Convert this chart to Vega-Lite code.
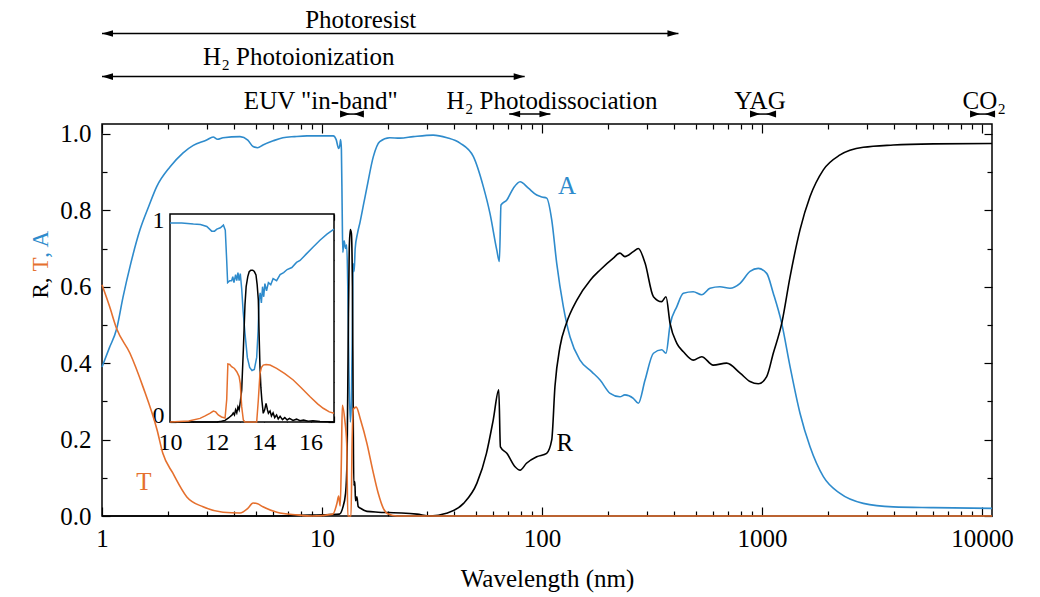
{
"$schema": "https://vega.github.io/schema/vega-lite/v6.json",
"width": 890,
"height": 392,
"autosize": {"type": "none"},
"padding": {"left": 102, "top": 124, "right": 48, "bottom": 81},
"background": "white",
"config": {
  "view": {"stroke": "#000", "strokeWidth": 1.5},
  "font": "Liberation Serif",
  "text": {"font": "Liberation Serif"},
  "axis": {"domain": false, "grid": false, "labelFont": "Liberation Serif", "titleFont": "Liberation Serif", "labelColor": "#000", "titleColor": "#000", "tickColor": "#000", "tickWidth": 1.2, "titleFontWeight": "normal", "labelOverlap": false, "labelFlush": false, "zindex": 1}
},
"datasets": {
  "main": [
    {"s":"A","wl":1,"v":0.39},{"s":"A","wl":1.08,"v":0.44},{"s":"A","wl":1.166,"v":0.49},{"s":"A","wl":1.246,"v":0.573},{"s":"A","wl":1.35,"v":0.66},{"s":"A","wl":1.488,"v":0.749},{"s":"A","wl":1.63,"v":0.81},{"s":"A","wl":1.773,"v":0.862},{"s":"A","wl":2.04,"v":0.914},{"s":"A","wl":2.33,"v":0.95},{"s":"A","wl":2.6,"v":0.97},{"s":"A","wl":2.99,"v":0.984},{"s":"A","wl":3.2,"v":0.992},{"s":"A","wl":3.35,"v":0.986},{"s":"A","wl":3.55,"v":0.99},{"s":"A","wl":4.24,"v":0.993},{"s":"A","wl":4.6,"v":0.984},{"s":"A","wl":4.86,"v":0.967},{"s":"A","wl":5.1,"v":0.964},{"s":"A","wl":5.39,"v":0.971},{"s":"A","wl":6.0,"v":0.982},{"s":"A","wl":6.64,"v":0.99},{"s":"A","wl":7.5,"v":0.993},{"s":"A","wl":8.55,"v":0.995},{"s":"A","wl":9.79,"v":0.995},{"s":"A","wl":10.5,"v":0.995},{"s":"A","wl":11.25,"v":0.995},{"s":"A","wl":11.6,"v":0.985},{"s":"A","wl":11.9,"v":0.962},{"s":"A","wl":12.05,"v":0.97},{"s":"A","wl":12.15,"v":0.985},{"s":"A","wl":12.25,"v":0.96},{"s":"A","wl":12.35,"v":0.8},{"s":"A","wl":12.43,"v":0.69},{"s":"A","wl":12.6,"v":0.72},{"s":"A","wl":12.8,"v":0.7},{"s":"A","wl":12.95,"v":0.71},{"s":"A","wl":13.1,"v":0.6},{"s":"A","wl":13.25,"v":0.38},{"s":"A","wl":13.45,"v":0.246},{"s":"A","wl":13.6,"v":0.3},{"s":"A","wl":13.75,"v":0.5},{"s":"A","wl":13.85,"v":0.66},{"s":"A","wl":14.0,"v":0.64},{"s":"A","wl":14.15,"v":0.7},{"s":"A","wl":14.5,"v":0.74},{"s":"A","wl":14.9,"v":0.77},{"s":"A","wl":15.5,"v":0.82},{"s":"A","wl":16.0,"v":0.86},{"s":"A","wl":17.1,"v":0.94},{"s":"A","wl":18.3,"v":0.98},{"s":"A","wl":20.3,"v":0.99},{"s":"A","wl":22.6,"v":0.989},{"s":"A","wl":26,"v":0.993},{"s":"A","wl":32,"v":0.997},{"s":"A","wl":37,"v":0.99},{"s":"A","wl":42.4,"v":0.976},{"s":"A","wl":48.7,"v":0.941},{"s":"A","wl":54.1,"v":0.862},{"s":"A","wl":58,"v":0.792},{"s":"A","wl":62.3,"v":0.696},{"s":"A","wl":64,"v":0.666},{"s":"A","wl":65.1,"v":0.814},{"s":"A","wl":69.2,"v":0.827},{"s":"A","wl":74.1,"v":0.858},{"s":"A","wl":79.5,"v":0.875},{"s":"A","wl":86.7,"v":0.858},{"s":"A","wl":94.6,"v":0.84},{"s":"A","wl":100,"v":0.835},{"s":"A","wl":105,"v":0.832},{"s":"A","wl":110.7,"v":0.775},{"s":"A","wl":116.6,"v":0.662},{"s":"A","wl":125,"v":0.548},{"s":"A","wl":134,"v":0.469},{"s":"A","wl":148.8,"v":0.408},{"s":"A","wl":168,"v":0.378},{"s":"A","wl":183.6,"v":0.356},{"s":"A","wl":204,"v":0.321},{"s":"A","wl":226,"v":0.312},{"s":"A","wl":238,"v":0.317},{"s":"A","wl":260,"v":0.308},{"s":"A","wl":274,"v":0.295},{"s":"A","wl":294,"v":0.356},{"s":"A","wl":321,"v":0.426},{"s":"A","wl":350,"v":0.435},{"s":"A","wl":366,"v":0.426},{"s":"A","wl":382,"v":0.5},{"s":"A","wl":410,"v":0.548},{"s":"A","wl":439,"v":0.583},{"s":"A","wl":487,"v":0.587},{"s":"A","wl":532,"v":0.579},{"s":"A","wl":580,"v":0.596},{"s":"A","wl":644,"v":0.6},{"s":"A","wl":715,"v":0.596},{"s":"A","wl":795,"v":0.609},{"s":"A","wl":882,"v":0.64},{"s":"A","wl":962,"v":0.648},{"s":"A","wl":1050,"v":0.635},{"s":"A","wl":1125,"v":0.583},{"s":"A","wl":1229,"v":0.504},{"s":"A","wl":1341,"v":0.391},{"s":"A","wl":1488,"v":0.269},{"s":"A","wl":1653,"v":0.181},{"s":"A","wl":1900,"v":0.103},{"s":"A","wl":2263,"v":0.059},{"s":"A","wl":2886,"v":0.033},{"s":"A","wl":3950,"v":0.024},{"s":"A","wl":6010,"v":0.022},{"s":"A","wl":11100,"v":0.02},
    {"s":"R","wl":1,"v":0},{"s":"R","wl":6,"v":0},{"s":"R","wl":8,"v":0.002},{"s":"R","wl":10,"v":0.003},{"s":"R","wl":12,"v":0.005},{"s":"R","wl":12.4,"v":0.02},{"s":"R","wl":12.8,"v":0.06},{"s":"R","wl":13.0,"v":0.15},{"s":"R","wl":13.15,"v":0.45},{"s":"R","wl":13.3,"v":0.7},{"s":"R","wl":13.45,"v":0.75},{"s":"R","wl":13.6,"v":0.74},{"s":"R","wl":13.75,"v":0.6},{"s":"R","wl":13.85,"v":0.3},{"s":"R","wl":13.95,"v":0.08},{"s":"R","wl":14.1,"v":0.09},{"s":"R","wl":14.2,"v":0.04},{"s":"R","wl":14.4,"v":0.05},{"s":"R","wl":14.6,"v":0.025},{"s":"R","wl":15,"v":0.02},{"s":"R","wl":16,"v":0.012},{"s":"R","wl":18,"v":0.01},{"s":"R","wl":20,"v":0.009},{"s":"R","wl":23,"v":0.008},{"s":"R","wl":27,"v":0.005},{"s":"R","wl":31,"v":0.0},{"s":"R","wl":36.8,"v":0.007},{"s":"R","wl":44,"v":0.033},{"s":"R","wl":50.6,"v":0.086},{"s":"R","wl":55.9,"v":0.164},{"s":"R","wl":60,"v":0.251},{"s":"R","wl":63.6,"v":0.33},{"s":"R","wl":64.7,"v":0.181},{"s":"R","wl":69.2,"v":0.164},{"s":"R","wl":75.4,"v":0.129},{"s":"R","wl":79.5,"v":0.12},{"s":"R","wl":85,"v":0.138},{"s":"R","wl":94.6,"v":0.155},{"s":"R","wl":105,"v":0.164},{"s":"R","wl":110.7,"v":0.199},{"s":"R","wl":114.5,"v":0.339},{"s":"R","wl":120.7,"v":0.443},{"s":"R","wl":129,"v":0.504},{"s":"R","wl":144,"v":0.565},{"s":"R","wl":166,"v":0.618},{"s":"R","wl":183.6,"v":0.644},{"s":"R","wl":211,"v":0.675},{"s":"R","wl":226,"v":0.688},{"s":"R","wl":238,"v":0.679},{"s":"R","wl":260,"v":0.692},{"s":"R","wl":274,"v":0.7},{"s":"R","wl":294,"v":0.662},{"s":"R","wl":321,"v":0.574},{"s":"R","wl":350,"v":0.561},{"s":"R","wl":366,"v":0.574},{"s":"R","wl":382,"v":0.504},{"s":"R","wl":410,"v":0.452},{"s":"R","wl":439,"v":0.43},{"s":"R","wl":487,"v":0.408},{"s":"R","wl":532,"v":0.417},{"s":"R","wl":600,"v":0.395},{"s":"R","wl":690,"v":0.4},{"s":"R","wl":795,"v":0.374},{"s":"R","wl":882,"v":0.352},{"s":"R","wl":962,"v":0.346},{"s":"R","wl":1050,"v":0.365},{"s":"R","wl":1125,"v":0.426},{"s":"R","wl":1229,"v":0.504},{"s":"R","wl":1341,"v":0.626},{"s":"R","wl":1488,"v":0.749},{"s":"R","wl":1653,"v":0.836},{"s":"R","wl":1900,"v":0.906},{"s":"R","wl":2263,"v":0.945},{"s":"R","wl":2886,"v":0.965},{"s":"R","wl":3950,"v":0.971},{"s":"R","wl":6010,"v":0.974},{"s":"R","wl":11100,"v":0.975},
    {"s":"T","wl":1,"v":0.605},{"s":"T","wl":1.08,"v":0.55},{"s":"T","wl":1.166,"v":0.49},{"s":"T","wl":1.34,"v":0.426},{"s":"T","wl":1.536,"v":0.338},{"s":"T","wl":1.78,"v":0.225},{"s":"T","wl":1.89,"v":0.164},{"s":"T","wl":2.1,"v":0.112},{"s":"T","wl":2.43,"v":0.05},{"s":"T","wl":2.88,"v":0.024},{"s":"T","wl":3.55,"v":0.01},{"s":"T","wl":4.24,"v":0.008},{"s":"T","wl":4.6,"v":0.02},{"s":"T","wl":4.86,"v":0.034},{"s":"T","wl":5.1,"v":0.032},{"s":"T","wl":5.39,"v":0.024},{"s":"T","wl":6.24,"v":0.01},{"s":"T","wl":7.69,"v":0.003},{"s":"T","wl":9,"v":0},{"s":"T","wl":11.2,"v":0.005},{"s":"T","wl":11.7,"v":0.034},{"s":"T","wl":11.9,"v":0.052},{"s":"T","wl":12.1,"v":0.026},{"s":"T","wl":12.25,"v":0.15},{"s":"T","wl":12.37,"v":0.29},{"s":"T","wl":12.7,"v":0.25},{"s":"T","wl":12.95,"v":0.19},{"s":"T","wl":13.1,"v":0},{"s":"T","wl":13.55,"v":0},{"s":"T","wl":13.7,"v":0.19},{"s":"T","wl":13.9,"v":0.28},{"s":"T","wl":14.3,"v":0.285},{"s":"T","wl":15,"v":0.25},{"s":"T","wl":16,"v":0.19},{"s":"T","wl":17,"v":0.12},{"s":"T","wl":18,"v":0.06},{"s":"T","wl":19,"v":0.02},{"s":"T","wl":20,"v":0.005},{"s":"T","wl":22,"v":0},{"s":"T","wl":11100,"v":0}
  ],
  "inset": [
    {"s":"A","wl":10,"v":0.985},{"s":"A","wl":10.5,"v":0.985},{"s":"A","wl":11,"v":0.98},{"s":"A","wl":11.3,"v":0.978},{"s":"A","wl":11.57,"v":0.968},{"s":"A","wl":11.78,"v":0.945},{"s":"A","wl":11.9,"v":0.945},{"s":"A","wl":12,"v":0.955},{"s":"A","wl":12.15,"v":0.962},{"s":"A","wl":12.28,"v":0.975},{"s":"A","wl":12.36,"v":0.95},{"s":"A","wl":12.42,"v":0.8},{"s":"A","wl":12.46,"v":0.69},{"s":"A","wl":12.55,"v":0.7},{"s":"A","wl":12.63,"v":0.7},{"s":"A","wl":12.68,"v":0.72},{"s":"A","wl":12.73,"v":0.69},{"s":"A","wl":12.8,"v":0.73},{"s":"A","wl":12.85,"v":0.7},{"s":"A","wl":12.9,"v":0.74},{"s":"A","wl":12.95,"v":0.7},{"s":"A","wl":13,"v":0.735},{"s":"A","wl":13.06,"v":0.66},{"s":"A","wl":13.12,"v":0.55},{"s":"A","wl":13.2,"v":0.44},{"s":"A","wl":13.3,"v":0.32},{"s":"A","wl":13.4,"v":0.27},{"s":"A","wl":13.5,"v":0.255},{"s":"A","wl":13.6,"v":0.26},{"s":"A","wl":13.7,"v":0.32},{"s":"A","wl":13.76,"v":0.45},{"s":"A","wl":13.8,"v":0.6},{"s":"A","wl":13.85,"v":0.64},{"s":"A","wl":13.9,"v":0.59},{"s":"A","wl":13.95,"v":0.67},{"s":"A","wl":14,"v":0.62},{"s":"A","wl":14.05,"v":0.685},{"s":"A","wl":14.12,"v":0.65},{"s":"A","wl":14.2,"v":0.69},{"s":"A","wl":14.3,"v":0.68},{"s":"A","wl":14.4,"v":0.71},{"s":"A","wl":14.55,"v":0.7},{"s":"A","wl":14.7,"v":0.73},{"s":"A","wl":14.85,"v":0.74},{"s":"A","wl":15,"v":0.755},{"s":"A","wl":15.2,"v":0.765},{"s":"A","wl":15.4,"v":0.79},{"s":"A","wl":15.55,"v":0.8},{"s":"A","wl":15.8,"v":0.83},{"s":"A","wl":16.1,"v":0.865},{"s":"A","wl":16.4,"v":0.9},{"s":"A","wl":16.7,"v":0.93},{"s":"A","wl":17,"v":0.955},
    {"s":"R","wl":10,"v":0},{"s":"R","wl":12,"v":0},{"s":"R","wl":12.2,"v":0.004},{"s":"R","wl":12.35,"v":0.008},{"s":"R","wl":12.5,"v":0.02},{"s":"R","wl":12.56,"v":0.026},{"s":"R","wl":12.65,"v":0.035},{"s":"R","wl":12.7,"v":0.045},{"s":"R","wl":12.75,"v":0.035},{"s":"R","wl":12.8,"v":0.06},{"s":"R","wl":12.85,"v":0.045},{"s":"R","wl":12.9,"v":0.075},{"s":"R","wl":12.95,"v":0.06},{"s":"R","wl":13,"v":0.1},{"s":"R","wl":13.06,"v":0.158},{"s":"R","wl":13.13,"v":0.356},{"s":"R","wl":13.2,"v":0.58},{"s":"R","wl":13.25,"v":0.67},{"s":"R","wl":13.32,"v":0.72},{"s":"R","wl":13.38,"v":0.744},{"s":"R","wl":13.45,"v":0.752},{"s":"R","wl":13.53,"v":0.752},{"s":"R","wl":13.6,"v":0.745},{"s":"R","wl":13.67,"v":0.728},{"s":"R","wl":13.72,"v":0.68},{"s":"R","wl":13.77,"v":0.604},{"s":"R","wl":13.8,"v":0.45},{"s":"R","wl":13.84,"v":0.274},{"s":"R","wl":13.88,"v":0.17},{"s":"R","wl":13.92,"v":0.109},{"s":"R","wl":13.98,"v":0.043},{"s":"R","wl":14.04,"v":0.06},{"s":"R","wl":14.1,"v":0.092},{"s":"R","wl":14.16,"v":0.06},{"s":"R","wl":14.2,"v":0.043},{"s":"R","wl":14.27,"v":0.055},{"s":"R","wl":14.33,"v":0.03},{"s":"R","wl":14.4,"v":0.045},{"s":"R","wl":14.47,"v":0.022},{"s":"R","wl":14.55,"v":0.035},{"s":"R","wl":14.62,"v":0.015},{"s":"R","wl":14.7,"v":0.028},{"s":"R","wl":14.8,"v":0.012},{"s":"R","wl":14.9,"v":0.022},{"s":"R","wl":15,"v":0.01},{"s":"R","wl":15.1,"v":0.018},{"s":"R","wl":15.25,"v":0.008},{"s":"R","wl":15.4,"v":0.014},{"s":"R","wl":15.55,"v":0.006},{"s":"R","wl":15.7,"v":0.01},{"s":"R","wl":15.9,"v":0.004},{"s":"R","wl":16.1,"v":0.006},{"s":"R","wl":16.4,"v":0.002},{"s":"R","wl":17,"v":0},
    {"s":"T","wl":10,"v":0},{"s":"T","wl":10.8,"v":0.005},{"s":"T","wl":11.28,"v":0.018},{"s":"T","wl":11.5,"v":0.03},{"s":"T","wl":11.7,"v":0.043},{"s":"T","wl":11.85,"v":0.054},{"s":"T","wl":11.95,"v":0.05},{"s":"T","wl":12.06,"v":0.035},{"s":"T","wl":12.2,"v":0.025},{"s":"T","wl":12.35,"v":0.02},{"s":"T","wl":12.42,"v":0.11},{"s":"T","wl":12.47,"v":0.287},{"s":"T","wl":12.55,"v":0.285},{"s":"T","wl":12.63,"v":0.274},{"s":"T","wl":12.75,"v":0.265},{"s":"T","wl":12.85,"v":0.249},{"s":"T","wl":12.95,"v":0.225},{"s":"T","wl":13,"v":0.19},{"s":"T","wl":13.06,"v":0.076},{"s":"T","wl":13.13,"v":0.01},{"s":"T","wl":13.2,"v":0},{"s":"T","wl":13.7,"v":0},{"s":"T","wl":13.77,"v":0.109},{"s":"T","wl":13.84,"v":0.24},{"s":"T","wl":13.9,"v":0.27},{"s":"T","wl":13.98,"v":0.282},{"s":"T","wl":14.1,"v":0.285},{"s":"T","wl":14.27,"v":0.282},{"s":"T","wl":14.55,"v":0.266},{"s":"T","wl":14.9,"v":0.24},{"s":"T","wl":15.26,"v":0.208},{"s":"T","wl":15.6,"v":0.17},{"s":"T","wl":15.98,"v":0.125},{"s":"T","wl":16.3,"v":0.09},{"s":"T","wl":16.54,"v":0.068},{"s":"T","wl":16.8,"v":0.05},{"s":"T","wl":17,"v":0.043}
  ],
  "curvelabels": [
    {"s":"A","wl":130,"v":0.864},{"s":"R","wl":127,"v":0.191},{"s":"T","wl":1.55,"v":0.089}
  ],
  "spans": [
    {"name":"Photoresist","from":1,"to":417,"level":1.263},
    {"name":"H2 Photoionization","from":1,"to":83.4,"level":1.15},
    {"name":"H2 Photodissociation","from":70.9,"to":109.2,"level":1.052}
  ],
  "bands": [
    {"name":"EUV","from":12.08,"to":15.5,"level":1.052},
    {"name":"YAG","from":882,"to":1158,"level":1.052},
    {"name":"CO2","from":8820,"to":11460,"level":1.052}
  ],
  "notes": [
    {"t":"Photoresist","wl":15.0,"level":1.276},
    {"t":"H₂ Photoionization","wl":7.84,"level":1.18},
    {"t":"EUV \"in-band\"","wl":9.88,"level":1.0645},
    {"t":"H₂ Photodissociation","wl":111,"level":1.0645},
    {"t":"YAG","wl":979,"level":1.0645},
    {"t":"CO₂","wl":10245,"level":1.0645}
  ]
},
"resolve": {"scale": {"x": "independent", "y": "independent"}},
"layer": [
  {
    "resolve": {"axis": {"x": "independent", "y": "independent"}},
    "layer": [
      {
        "data": {"name": "main"},
        "mark": {"type": "line", "strokeWidth": 1.6, "interpolate": "monotone"},
        "encoding": {
          "x": {"field": "wl", "type": "quantitative", "scale": {"type": "log", "domain": [1, 11100], "nice": false},
            "axis": {"orient": "bottom", "values": [1,2,3,4,5,6,7,8,9,10,20,30,40,50,60,70,80,90,100,200,300,400,500,600,700,800,900,1000,2000,3000,4000,5000,6000,7000,8000,9000,10000],
              "labelExpr": "indexof([1,10,100,1000,10000], datum.value) >= 0 ? format(datum.value, 'd') : ''",
              "labelFontSize": 25, "labelPadding": 19,
              "tickSize": {"condition": {"test": "indexof([1,10,100,1000,10000], datum.value) >= 0", "value": -9}, "value": -5},
              "title": "Wavelength (nm)", "titleFontSize": 25, "titleY": 70, "titleBaseline": "alphabetic"}},
          "y": {"field": "v", "type": "quantitative", "scale": {"domain": [0, 1.026], "nice": false, "zero": false},
            "axis": {"orient": "left", "values": [0,0.1,0.2,0.3,0.4,0.5,0.6,0.7,0.8,0.9,1.0],
              "labelExpr": "round(datum.value*10) % 2 == 0 ? format(datum.value, '.1f') : ''",
              "labelFontSize": 25, "labelPadding": 19,
              "tickSize": {"condition": {"test": "round(datum.value*10) % 2 == 0", "value": -8}, "value": -5},
              "title": "R,", "titleFontSize": 23, "titleAngle": 270, "titleAlign": "left", "titleBaseline": "alphabetic", "titleX": -55, "titleY": 174}},
          "color": {"field": "s", "type": "nominal", "scale": {"domain": ["A", "T", "R"], "range": ["#2e8bcc", "#e5702e", "#000000"]}, "legend": null},
          "order": {"field": "wl", "type": "quantitative"}
        }
      },
      {
        "data": {"name": "curvelabels"},
        "mark": {"type": "text", "fontSize": 25, "baseline": "middle", "align": "center", "font": "Liberation Serif"},
        "encoding": {
          "x": {"field": "wl", "type": "quantitative", "scale": {"type": "log", "domain": [1, 11100], "nice": false},
            "axis": {"orient": "top", "values": [1,2,3,4,5,6,7,8,9,10,20,30,40,50,60,70,80,90,100,200,300,400,500,600,700,800,900,1000,2000,3000,4000,5000,6000,7000,8000,9000,10000],
              "labels": false, "title": null,
              "tickSize": {"condition": {"test": "indexof([1,10,100,1000,10000], datum.value) >= 0", "value": -9}, "value": -5}}},
          "y": {"field": "v", "type": "quantitative", "scale": {"domain": [0, 1.026], "nice": false, "zero": false},
            "axis": {"orient": "right", "values": [0,0.1,0.2,0.3,0.4,0.5,0.6,0.7,0.8,0.9,1.0], "labels": false, "title": null,
              "tickSize": {"condition": {"test": "round(datum.value*10) % 2 == 0", "value": -8}, "value": -5}}},
          "text": {"field": "s"},
          "color": {"field": "s", "type": "nominal", "scale": {"domain": ["A", "T", "R"], "range": ["#2e8bcc", "#e5702e", "#000000"]}, "legend": null}
        }
      },
      {
        "data": {"name": "spans"},
        "mark": {"type": "rule", "strokeWidth": 1.5, "color": "#000"},
        "encoding": {
          "x": {"field": "from", "type": "quantitative", "scale": {"type": "log", "domain": [1, 11100], "nice": false}, "axis": null},
          "x2": {"field": "to"},
          "y": {"field": "level", "type": "quantitative", "scale": {"domain": [0, 1.026], "nice": false, "zero": false},
            "axis": {"orient": "left", "labels": false, "ticks": false, "domain": false, "title": "T", "titleColor": "#e5702e", "titleFontSize": 23, "titleAngle": 270, "titleAlign": "left", "titleBaseline": "alphabetic", "titleX": -55, "titleY": 147}}
        }
      },
      {
        "data": {"name": "bands"},
        "mark": {"type": "rule", "strokeWidth": 1.5, "color": "#000"},
        "encoding": {
          "x": {"field": "from", "type": "quantitative", "scale": {"type": "log", "domain": [1, 11100], "nice": false}, "axis": null},
          "x2": {"field": "to"},
          "y": {"field": "level", "type": "quantitative", "scale": {"domain": [0, 1.026], "nice": false, "zero": false}, "axis": null}
        }
      },
      {
        "data": {"name": "spans"},
        "mark": {"type": "point", "shape": "M 0 0 L 2 -0.6 L 2 0.6 Z", "filled": true, "color": "#000", "size": 121, "opacity": 1, "strokeWidth": 0},
        "encoding": {
          "x": {"field": "from", "type": "quantitative", "scale": {"type": "log", "domain": [1, 11100], "nice": false}, "axis": null},
          "y": {"field": "level", "type": "quantitative", "scale": {"domain": [0, 1.026], "nice": false, "zero": false}, "axis": null}
        }
      },
      {
        "data": {"name": "spans"},
        "mark": {"type": "point", "shape": "M 0 0 L -2 -0.6 L -2 0.6 Z", "filled": true, "color": "#000", "size": 121, "opacity": 1, "strokeWidth": 0},
        "encoding": {
          "x": {"field": "to", "type": "quantitative", "scale": {"type": "log", "domain": [1, 11100], "nice": false}, "axis": null},
          "y": {"field": "level", "type": "quantitative", "scale": {"domain": [0, 1.026], "nice": false, "zero": false}, "axis": null}
        }
      },
      {
        "data": {"name": "bands"},
        "mark": {"type": "point", "shape": "M 0 -0.7 L 2 0 L 0 0.7 Z", "filled": true, "color": "#000", "size": 100, "opacity": 1, "strokeWidth": 0},
        "encoding": {
          "x": {"field": "from", "type": "quantitative", "scale": {"type": "log", "domain": [1, 11100], "nice": false}, "axis": null},
          "y": {"field": "level", "type": "quantitative", "scale": {"domain": [0, 1.026], "nice": false, "zero": false}, "axis": null}
        }
      },
      {
        "data": {"name": "bands"},
        "mark": {"type": "point", "shape": "M 0 -0.7 L -2 0 L 0 0.7 Z", "filled": true, "color": "#000", "size": 100, "opacity": 1, "strokeWidth": 0},
        "encoding": {
          "x": {"field": "to", "type": "quantitative", "scale": {"type": "log", "domain": [1, 11100], "nice": false}, "axis": null},
          "y": {"field": "level", "type": "quantitative", "scale": {"domain": [0, 1.026], "nice": false, "zero": false}, "axis": null}
        }
      },
      {
        "data": {"name": "notes"},
        "mark": {"type": "text", "fontSize": 25, "baseline": "alphabetic", "align": "center", "color": "#000", "font": "Liberation Serif"},
        "encoding": {
          "x": {"field": "wl", "type": "quantitative", "scale": {"type": "log", "domain": [1, 11100], "nice": false}, "axis": null},
          "y": {"field": "level", "type": "quantitative", "scale": {"domain": [0, 1.026], "nice": false, "zero": false},
            "axis": {"orient": "left", "labels": false, "ticks": false, "domain": false, "title": ", A", "titleColor": "#2e8bcc", "titleFontSize": 23, "titleAngle": 270, "titleAlign": "left", "titleBaseline": "alphabetic", "titleX": -55, "titleY": 133.2}},
          "text": {"field": "t"}
        }
      }
    ]
  },
  {
    "resolve": {"axis": {"x": "independent", "y": "independent"}},
    "layer": [
      {
        "data": {"values": [{}]},
        "mark": {"type": "rect", "fill": "white", "stroke": "#000", "strokeWidth": 1.5},
        "encoding": {
          "x": {"datum": 10, "type": "quantitative", "scale": {"domain": [10, 17], "range": [68, 232], "nice": false, "zero": false},
            "axis": {"orient": "top", "offset": -90, "values": [10,11,12,13,14,15,16,17], "labels": false, "tickSize": -6, "title": null}},
          "x2": {"datum": 17},
          "y": {"datum": 0, "type": "quantitative", "scale": {"domain": [0, 1.03], "range": [298, 90], "nice": false, "zero": false},
            "axis": {"orient": "right", "offset": -658, "values": [0,0.1,0.2,0.3,0.4,0.5,0.6,0.7,0.8,0.9,1.0], "labels": false, "tickSize": -6, "title": null}},
          "y2": {"datum": 1.03}
        }
      },
      {
        "data": {"name": "inset"},
        "mark": {"type": "line", "strokeWidth": 1.5},
        "encoding": {
          "x": {"field": "wl", "type": "quantitative", "scale": {"domain": [10, 17], "range": [68, 232], "nice": false, "zero": false},
            "axis": {"orient": "bottom", "offset": -94, "values": [10,11,12,13,14,15,16,17],
              "labelExpr": "datum.value % 2 == 0 && datum.value < 17 ? format(datum.value, 'd') : ''",
              "labelFontSize": 24, "labelPadding": 14, "tickSize": -6, "title": null}},
          "y": {"field": "v", "type": "quantitative", "scale": {"domain": [0, 1.03], "range": [298, 90], "nice": false, "zero": false},
            "axis": {"orient": "left", "offset": -68, "values": [0,0.1,0.2,0.3,0.4,0.5,0.6,0.7,0.8,0.9,1.0],
              "labelExpr": "datum.value == 0 || datum.value == 1 ? format(datum.value, 'd') : ''",
              "labelBaseline": {"condition": {"test": "datum.value == 0", "value": "alphabetic"}, "value": "middle"},
              "labelFontSize": 24, "labelPadding": 12, "tickSize": -6, "title": null}},
          "color": {"field": "s", "type": "nominal", "scale": {"domain": ["A", "T", "R"], "range": ["#2e8bcc", "#e5702e", "#000000"]}, "legend": null},
          "order": {"field": "wl", "type": "quantitative"}
        }
      }
    ]
  }
]
}
